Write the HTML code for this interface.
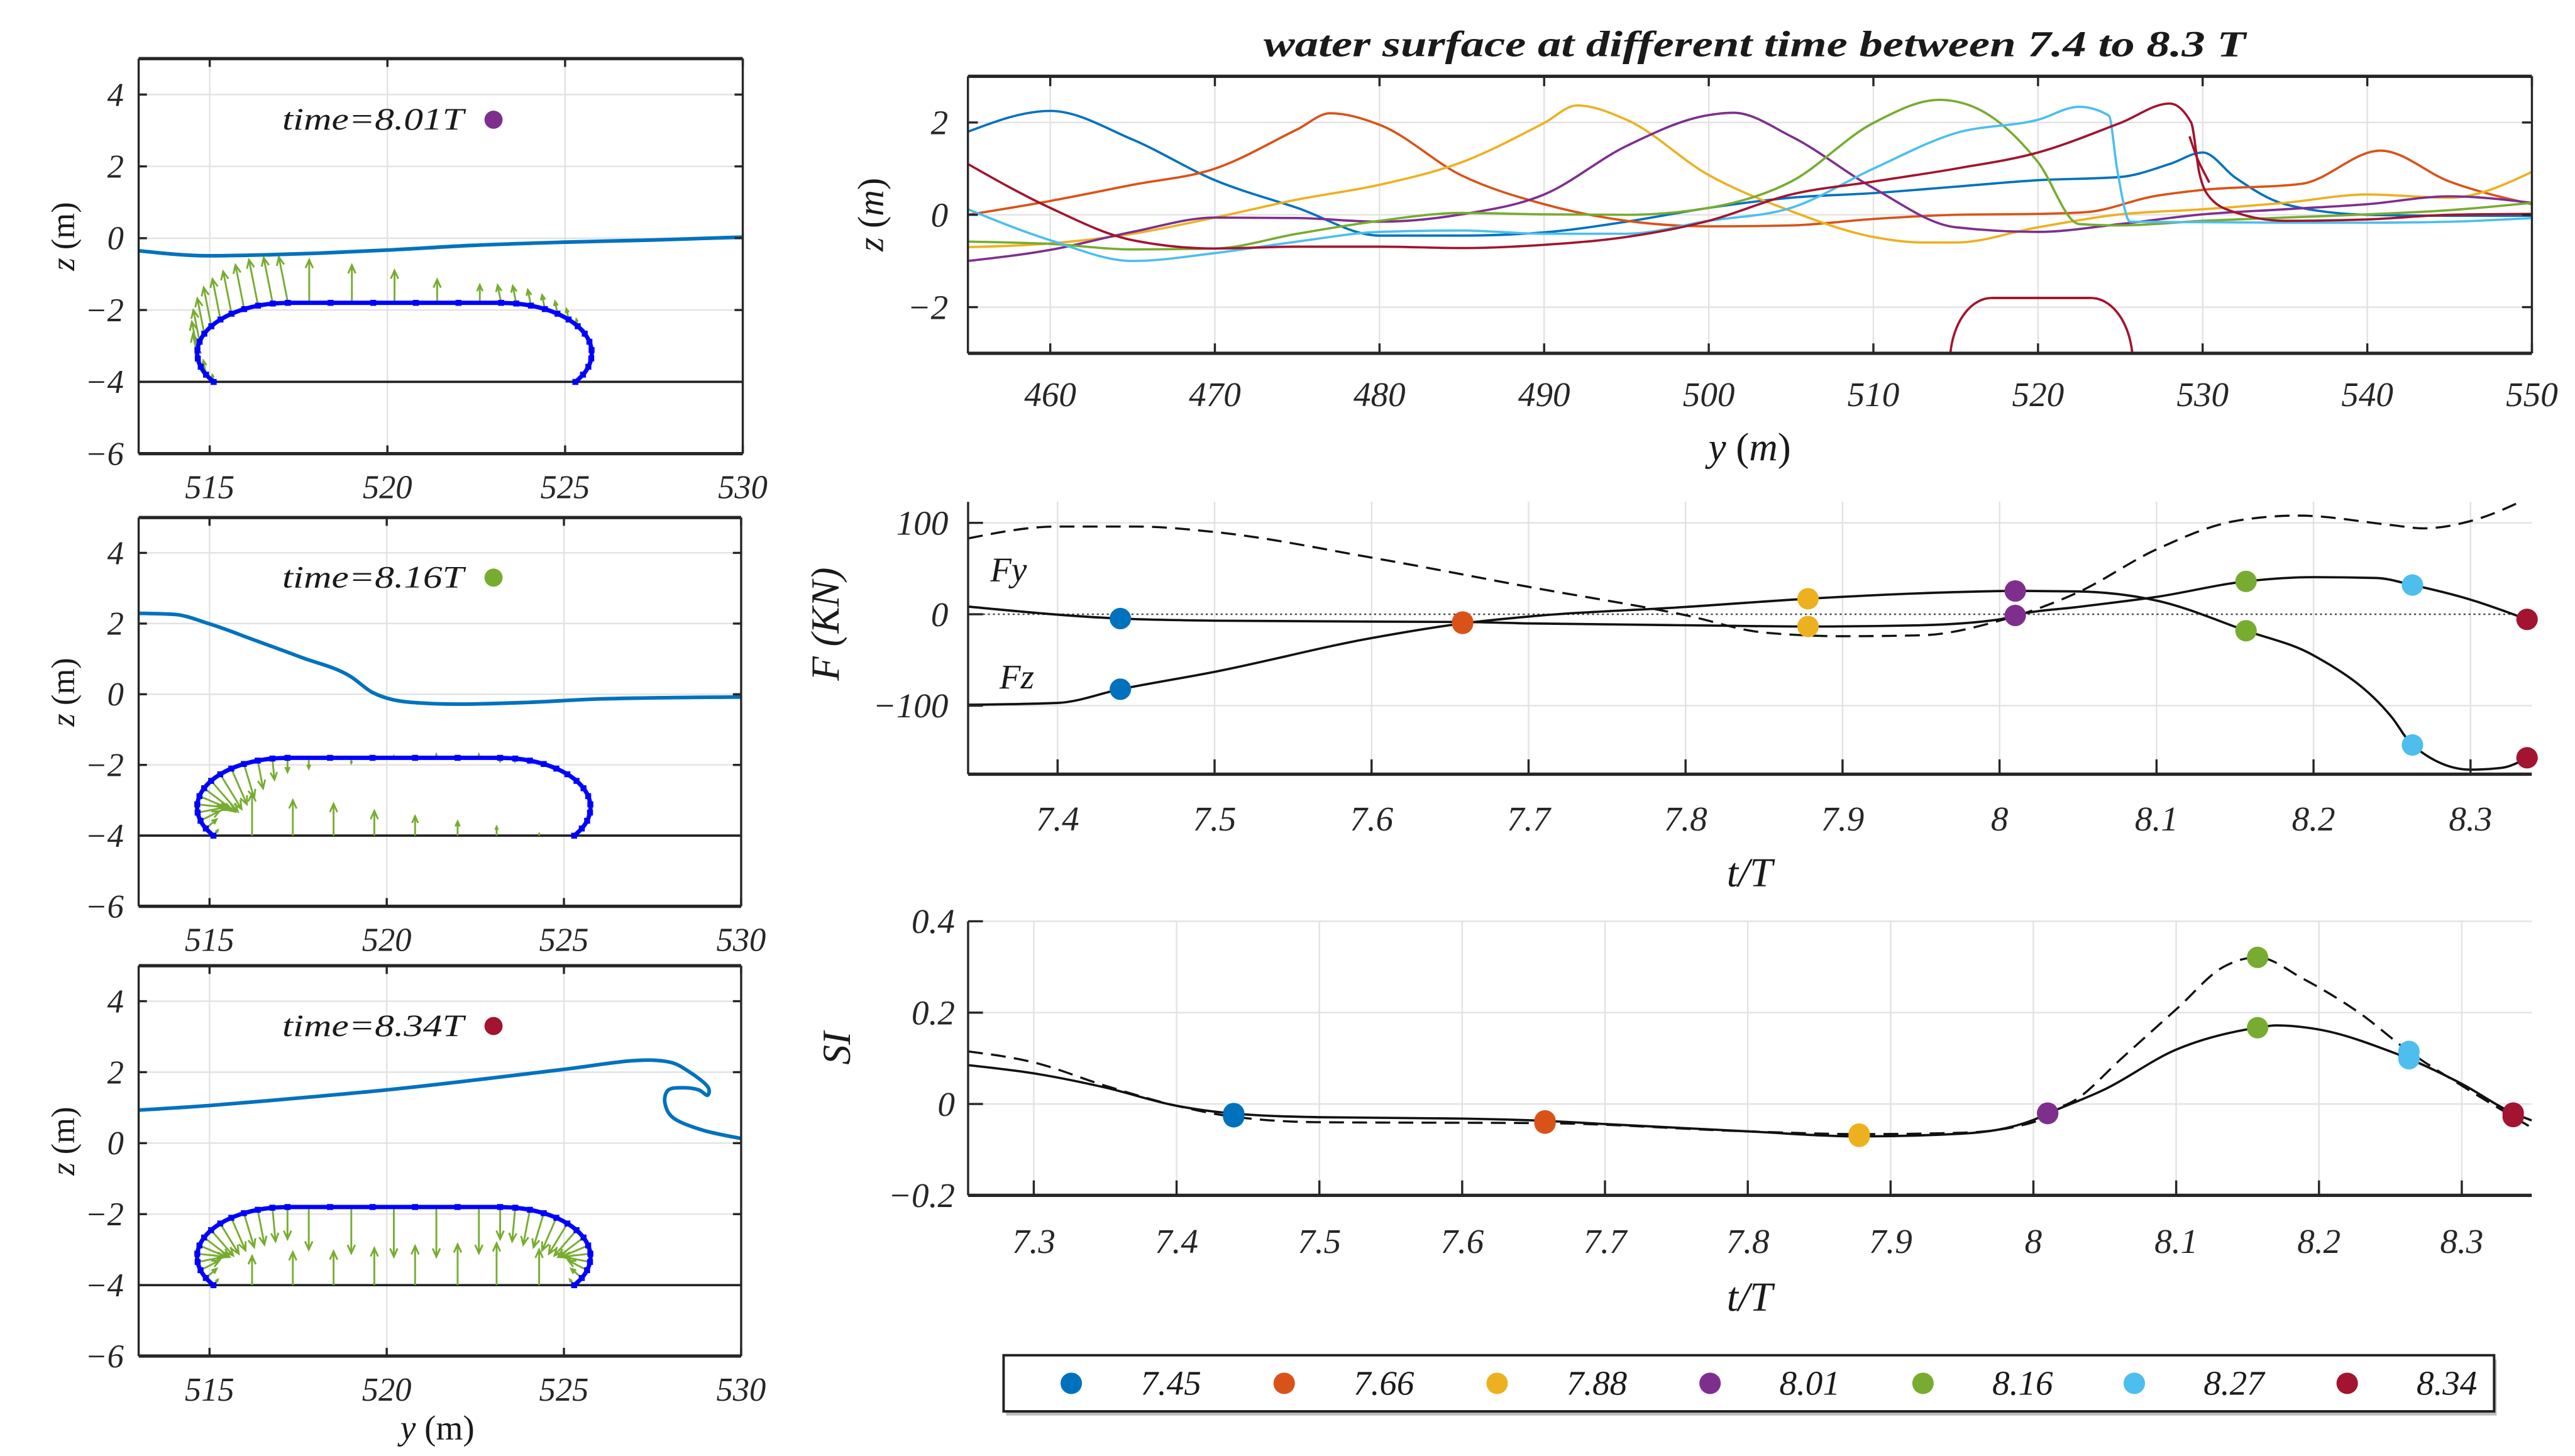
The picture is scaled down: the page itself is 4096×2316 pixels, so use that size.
<!DOCTYPE html>
<html><head><meta charset="utf-8"><style>html,body{margin:0;padding:0;background:#fff}svg{display:block}</style></head>
<body>
<svg id="fig" xmlns="http://www.w3.org/2000/svg" width="4096" height="2316" viewBox="0 0 1560 882" font-family="'Liberation Serif', serif">
<rect x="0" y="0" width="1560" height="882" fill="#fff"/>
</svg>
<script>
// ---------- data ----------
const markerT = [7.44, 7.658, 7.878, 8.01, 8.157, 8.263, 8.336];
const legendLabels = ['7.45','7.66','7.88','8.01','8.16','8.27','8.34'];
const C = ['#0072BD','#D95319','#EDB120','#7E2F8E','#77AC30','#4DBEEE','#A2142F'];

// water surfaces (top-right)
const s1X=[455,460,465,470,475,480,485,490,495,500,505,510,515,520,525,528,530,532,535,540,545,550];
const s1Z=[1.8,2.25,1.63,0.75,0.15,-0.45,-0.45,-0.38,-0.15,0.15,0.37,0.47,0.61,0.75,0.82,1.1,1.35,0.8,0.23,0.0,-0.02,-0.02];
const s2X=[455,460,465,470,475,477,480,485,490,495,500,505,510,515,520,523,527,530,536,540.8,545,550];
const s2Z=[0,0.3,0.65,1.0,1.85,2.2,1.95,0.85,0.23,-0.13,-0.25,-0.23,-0.09,0,0.02,0.06,0.4,0.54,0.67,1.39,0.72,0.23];
const s3X=[455,460,465,470,475,480,485,490,492,495,500,505,510,513,515,520,525,530,535,540,545,550];
const s3Z=[-0.7,-0.62,-0.41,-0.06,0.33,0.65,1.14,1.99,2.37,2.06,0.86,0.08,-0.48,-0.6,-0.6,-0.27,0.01,0.12,0.26,0.44,0.37,0.93];
const s4X=[455,460,465,470,475,480,485,490,495,500,501.5,505,510,515,520,525,530,535,540,545,550];
const s4Z=[-1.0,-0.76,-0.37,-0.06,-0.07,-0.15,0.01,0.44,1.49,2.16,2.21,1.7,0.58,-0.27,-0.37,-0.2,0.01,0.12,0.23,0.4,0.26];
const s5X=[455,460,465,470,475,480,485,490,495,500,505,510,514,516,520,522.5,525,530,535,540,545,550];
const s5Z=[-0.58,-0.63,-0.75,-0.73,-0.41,-0.13,0.04,0.01,0,0.15,0.72,1.99,2.49,2.35,1.14,-0.2,-0.23,-0.13,-0.06,0.01,0.1,0.26];
const s6X=[455,460,465,470,475,480,485,490,495,500,505,510,515,520,522.5,524.3,524.8,525.6,530,535,540,545,550];
const s6Z=[0.12,-0.55,-1.0,-0.83,-0.58,-0.37,-0.34,-0.41,-0.41,-0.13,0.15,1.0,1.77,2.06,2.34,2.15,1.0,-0.15,-0.16,-0.17,-0.17,-0.15,-0.07];
const s7X=[455,460,465,470,475,480,485,490,495,500,505,510,515,520,525,528,529.3,529.8,530.5,532,535,540,545,550];
const s7Z=[1.1,0.15,-0.55,-0.73,-0.69,-0.69,-0.72,-0.65,-0.48,-0.13,0.44,0.72,1.0,1.35,1.99,2.41,2.0,0.9,0.35,0.05,-0.13,-0.1,0.0,0.02];
const jetX=[529.2,529.7,530.4];
const jetZ=[1.7,1.2,0.7];
const surfX=[s1X,s2X,s3X,s4X,s5X,s6X,s7X];
const surfZ=[s1Z,s2Z,s3Z,s4Z,s5Z,s6Z,s7Z];

// forces
const fyT=[7.343,7.44,7.5,7.6,7.66,7.7,7.8,7.88,7.95,8.0,8.013,8.05,8.1,8.157,8.2,8.24,8.263,8.3,8.336];
const fyV=[8.4,-4.7,-7,-8,-8.5,-10,-12,-13.4,-12,-5.6,0,8,19,36,40.6,39.7,32,16,-5.6];
const fzT=[7.343,7.4,7.44,7.5,7.6,7.658,7.7,7.8,7.878,7.95,8.013,8.05,8.1,8.157,8.2,8.25,8.263,8.3,8.32,8.336];
const fzV=[-99,-97,-82,-63,-26,-10,-2.5,8,17,23,25.6,25,15,-18,-45,-113,-143,-170,-168,-157];
const fdT=[7.343,7.4,7.45,7.5,7.6,7.7,7.8,7.85,7.9,7.95,8.0,8.05,8.1,8.15,8.19,8.25,8.27,8.3,8.339];
const fdV=[83,96,96,90,62,30,-1,-20,-24,-23,-7,24,71,102,108,97.5,94,102,129];

// SI
const siT=[7.254,7.3,7.35,7.4,7.44,7.5,7.6,7.658,7.7,7.8,7.878,7.95,8.0,8.01,8.05,8.1,8.157,8.17,8.2,8.25,8.263,8.3,8.336,8.349];
const siV=[0.085,0.067,0.036,-0.004,-0.021,-0.029,-0.032,-0.037,-0.044,-0.06,-0.071,-0.065,-0.035,-0.021,0.032,0.119,0.167,0.172,0.163,0.115,0.099,0.044,-0.02,-0.036];
const sdT=[7.254,7.3,7.35,7.4,7.44,7.5,7.658,7.8,7.878,7.95,8.0,8.01,8.03,8.0615,8.101,8.133,8.157,8.189,8.228,8.263,8.298,8.349];
const sdV=[0.115,0.091,0.04,-0.004,-0.028,-0.04,-0.042,-0.06,-0.066,-0.063,-0.04,-0.02,0.01,0.099,0.21,0.3,0.321,0.274,0.2,0.115,0.044,-0.052];

// left panels: surfaces
const p1X=[513,515,516.7,518,520,522.4,525,527.5,530];
const p1Z=[-0.35,-0.49,-0.46,-0.42,-0.33,-0.2,-0.11,-0.05,0.03];
const p2X=[513,514,515,516.3,517.6,519,519.6,520.7,522,524,526.1,530];
const p2Z=[2.29,2.26,1.99,1.52,1.04,0.49,0.05,-0.23,-0.28,-0.23,-0.13,-0.08];
const p3X=[513,515,517.5,520,522.5,525,526.9,527.95,528.55,529.05,529.05,528.8,528.4,527.95,527.85,528.1,528.9,529.9,530.2];
const p3Z=[0.93,1.06,1.27,1.5,1.78,2.08,2.32,2.29,2.0,1.6,1.35,1.5,1.56,1.5,1.13,0.7,0.37,0.15,0.12];
// pressure arrow magnitudes (m)
const topArrowX=[517.8,519.0,520.2,521.4,522.6];
const botArrowX=[516.2,517.35,518.5,519.65,520.8,522.0,523.1,524.3];
const topDotX=[518.4,519.6,520.8,522.0];
const p1ArcL=[1.3,1.3,1.3,1.25,1.2,1.15,1.1,1.0,0.9,0.8,0.7,0.55,0.4,0.2];
const p1ArcR=[0.5,0.5,0.45,0.4,0.35,0.3,0.2,0.1,0,0,0,0,0,0];
const p1Top=[1.2,1.05,0.9,0.65,0.5];
const p1Bot=[0,0,0,0,0,0,0,0];
const p2ArcL=[0.4,0.6,0.8,1.0,1.1,1.15,1.15,1.1,1.0,0.9,0.8,0.6,0.4,0.2];
const p2ArcR=[0.1,0.08,0.05,0,0,0,0,0,0,0,0,0,0,0];
const p2Top=[-0.3,-0.15,0.05,0.1,0.1];
const p2Bot=[1.2,1.0,0.9,0.7,0.55,0.4,0.25,0.05];
const p3ArcL=[0.9,0.95,1.0,1.0,1.0,1.0,0.95,0.9,0.85,0.8,0.7,0.6,0.4,0.2];
const p3ArcR=[0.9,0.95,1.0,1.0,1.0,1.0,0.95,0.9,0.85,0.8,0.7,0.6,0.4,0.2];
const p3Top=[-1.2,-1.3,-1.4,-1.4,-1.3];
const p3Bot=[0.82,0.93,0.95,1.04,1.1,1.15,1.18,1.0];

// ---------- helpers ----------
const NS='http://www.w3.org/2000/svg';
const svg=document.getElementById('fig');
let clipN=0;
function el(tag,attrs,parent){const e=document.createElementNS(NS,tag);for(const k in attrs)e.setAttribute(k,attrs[k]);(parent||svg).appendChild(e);return e;}
function lin(d0,d1,r0,r1){return v=>r0+(v-d0)*(r1-r0)/(d1-d0);}
function interp(xs,ys,x){for(let i=0;i<xs.length-1;i++){if(x>=xs[i]&&x<=xs[i+1]){const t=(x-xs[i])/(xs[i+1]-xs[i]);return ys[i]+t*(ys[i+1]-ys[i]);}}return x<xs[0]?ys[0]:ys[ys.length-1];}
function monoPath(X,Y){
  const n=X.length; if(n<2) return '';
  const sgn=v=>v<0?-1:1;
  const m=new Array(n);
  for(let i=1;i<n-1;i++){const h0=X[i]-X[i-1],h1=X[i+1]-X[i];const s0=(Y[i]-Y[i-1])/h0,s1=(Y[i+1]-Y[i])/h1;const p=(s0*h1+s1*h0)/(h0+h1);m[i]=(sgn(s0)+sgn(s1))*Math.min(Math.abs(s0),Math.abs(s1),0.5*Math.abs(p))||0;}
  if(n===2){m[0]=m[1]=(Y[1]-Y[0])/(X[1]-X[0]);}
  else{const h=X[1]-X[0];m[0]=(3*(Y[1]-Y[0])/h-m[1])/2;const h2=X[n-1]-X[n-2];m[n-1]=(3*(Y[n-1]-Y[n-2])/h2-m[n-2])/2;}
  let d='M'+X[0].toFixed(2)+','+Y[0].toFixed(2);
  for(let i=0;i<n-1;i++){const dx=(X[i+1]-X[i])/3;d+='C'+(X[i]+dx).toFixed(2)+','+(Y[i]+dx*m[i]).toFixed(2)+' '+(X[i+1]-dx).toFixed(2)+','+(Y[i+1]-dx*m[i+1]).toFixed(2)+' '+X[i+1].toFixed(2)+','+Y[i+1].toFixed(2);}
  return d;
}
function crPath(X,Y){
  let d='M'+X[0].toFixed(2)+','+Y[0].toFixed(2);const n=X.length;
  for(let i=0;i<n-1;i++){const i0=Math.max(0,i-1),i3=Math.min(n-1,i+2);
    const c1x=X[i]+(X[i+1]-X[i0])/6,c1y=Y[i]+(Y[i+1]-Y[i0])/6,c2x=X[i+1]-(X[i3]-X[i])/6,c2y=Y[i+1]-(Y[i3]-Y[i])/6;
    d+='C'+c1x.toFixed(2)+','+c1y.toFixed(2)+' '+c2x.toFixed(2)+','+c2y.toFixed(2)+' '+X[i+1].toFixed(2)+','+Y[i+1].toFixed(2);}
  return d;
}
const fmt=v=>{let s=String(+v.toFixed(3));return s.replace('-','\u2212');};

function makeAxes(name,b,xd,yd,o){
  const sx=lin(xd[0],xd[1],b.x0,b.x1), sy=lin(yd[0],yd[1],b.y1,b.y0);
  const g=el('g',{});
  
  
  const id='clip'+(clipN++);
  const cp=el('clipPath',{id:id},g);
  el('rect',{x:b.x0,y:b.y0,width:b.x1-b.x0,height:b.y1-b.y0},cp);
  const grid=el('g',{stroke:'#e2e2e2','stroke-width':0.9},g);
  
  
  (o.gridX||[]).forEach(v=>{el('line',{x1:sx(v),x2:sx(v),y1:b.y0,y2:b.y1},grid);});
  (o.gridY||[]).forEach(v=>{el('line',{x1:b.x0,x2:b.x1,y1:sy(v),y2:sy(v)},grid);});
  const dg=el('g',{'clip-path':'url(#'+id+')'},g);
  
  
  return {sx,sy,g,dg,b,o};
}
function finishAxes(ax){
  const {sx,sy,g,b,o}=ax;
  const fr=el('g',{stroke:'#262626','stroke-width':1.3,fill:'none'},g);
  
  
  el('line',{x1:b.x0,x2:b.x1,y1:b.y1,y2:b.y1,'stroke-width':2},fr);
  el('line',{x1:b.x0,x2:b.x0,y1:b.y0,y2:b.y1},fr);
  if(o.box){el('line',{x1:b.x0,x2:b.x1,y1:b.y0,y2:b.y0,'stroke-width':2},fr);el('line',{x1:b.x1,x2:b.x1,y1:b.y0,y2:b.y1},fr);}
  const tl=o.tickLen||5;
  o.xticks.forEach(v=>{el('line',{x1:sx(v),x2:sx(v),y1:b.y1,y2:b.y1-tl},fr);if(o.box)el('line',{x1:sx(v),x2:sx(v),y1:b.y0,y2:b.y0+tl},fr);
    const t=el('text',{x:sx(v),y:o.xLabY,'text-anchor':'middle','font-size':o.fs,'font-style':'italic',fill:'#262626'},g);
    
    
    t.textContent=o.xfmt?o.xfmt(v):fmt(v);});
  o.yticks.forEach(v=>{el('line',{x1:b.x0,x2:b.x0+tl,y1:sy(v),y2:sy(v)},fr);if(o.box)el('line',{x1:b.x1,x2:b.x1-tl,y1:sy(v),y2:sy(v)},fr);
    const t=el('text',{x:b.x0-(o.yLabGap||8),y:sy(v)+o.fs*0.34,'text-anchor':'end','font-size':o.fs,'font-style':'italic',fill:'#262626'},g);
    
    
    t.textContent=fmt(v);});
}
function addText(txt,x,y,fs,name,extra){
  const t=el('text',Object.assign({x:x,y:y,'font-size':fs,fill:'#1a1a1a','text-anchor':'middle'},extra||{}));
  
  
  t.textContent=txt;return t;
}
function marker(parent,x,y,color,r){
  const c=el('circle',{cx:x,cy:y,r:r||6.5,fill:color},parent);
  
  
  return c;
}

// ---------- structure geometry ----------
const ARC_N=14, CL=517.2, CR=523.2, CZ=-3.2, RX=2.55, RY=1.4;
function arcPts(side){const pts=[];for(let i=0;i<ARC_N;i++){const a=(90+i*125/(ARC_N-1))*Math.PI/180;const c=Math.cos(a),s=Math.sin(a);
  if(side<0)pts.push({x:CL+RX*c,z:CZ+RY*s,nx:c/RX,nz:s/RY});else pts.push({x:CR-RX*c,z:CZ+RY*s,nx:-c/RX,nz:s/RY});}
  pts.forEach(p=>{const L=Math.hypot(p.nx,p.nz);p.nx/=L;p.nz/=L;});return pts;}
const arcL=arcPts(-1), arcR=arcPts(1);
function structurePath(sx,sy){
  const X=[],Y=[];
  for(let i=arcL.length-1;i>=0;i--){X.push(sx(arcL[i].x));Y.push(sy(arcL[i].z));}
  const R=[];
  arcR.forEach(p=>{R.push([sx(p.x),sy(p.z)]);});
  let d=crPath(X,Y);
  d+='L'+R[0][0].toFixed(2)+','+R[0][1].toFixed(2);
  d+=crPath(R.map(p=>p[0]),R.map(p=>p[1])).replace(/^M[^C]*/,'');
  return d;
}
function arrow(parent,x1,y1,x2,y2,color){
  const g=el('g',{stroke:color,'stroke-width':1.1,fill:'none'},parent);
  
  
  el('line',{x1:x1,y1:y1,x2:x2,y2:y2},g);
  const L=Math.hypot(x2-x1,y2-y1);if(L<1)return;
  const ux=(x2-x1)/L,uy=(y2-y1)/L,h=Math.min(5,0.35*L),w=h*0.45;
  el('path',{d:'M'+(x2-ux*h+uy*w)+','+(y2-uy*h-ux*w)+'L'+x2+','+y2+'L'+(x2-ux*h-uy*w)+','+(y2-uy*h+ux*w),fill:'none'},g);
}

// ---------- left panels ----------
const leftBoxes=[{x0:84,x1:450,y0:35.5,y1:274.8},{x0:84,x1:449,y0:313.5,y1:549},{x0:84,x1:449,y0:585,y1:821.5}];
const leftSurfX=[p1X,p2X,p3X], leftSurfZ=[p1Z,p2Z,p3Z];
const leftArcL=[p1ArcL,p2ArcL,p3ArcL], leftArcR=[p1ArcR,p2ArcR,p3ArcR], leftTop=[p1Top,p2Top,p3Top], leftBot=[p1Bot,p2Bot,p3Bot];
const leftTimes=['time=8.01T','time=8.16T','time=8.34T'], leftColor=[C[3],C[4],C[6]];
for(let k=0;k<3;k++){
  const b=leftBoxes[k];
  const ax=makeAxes('snapshot-panel-'+(k+1),b,[513,530],[-6,5],{gridX:[515,520,525],gridY:[-4,-2,0,2,4],xticks:[515,520,525,530],yticks:[-6,-4,-2,0,2,4],box:true,fs:20,xLabY:b.y1+27,yLabGap:9});
  const {sx,sy,dg}=ax;
  const sb=el('line',{x1:b.x0,x2:b.x1,y1:sy(-4),y2:sy(-4),stroke:'#222','stroke-width':1.4},dg);
  
  
  const ag=el('g',{},dg);
  
  
  const green='#77AC30';
  arcL.forEach((p,i)=>{const m=leftArcL[k][i];if(!m)return;let dx,dz;if(k===0){dx=-0.2;dz=1;const L=Math.hypot(dx,dz);dx/=L;dz/=L;}else{dx=-p.nx;dz=-p.nz;}
    arrow(ag,sx(p.x),sy(p.z),sx(p.x+dx*m),sy(p.z+dz*m),green);});
  arcR.forEach((p,i)=>{const m=leftArcR[k][i];if(!m)return;let dx,dz;if(k===0){dx=-0.2;dz=1;const L=Math.hypot(dx,dz);dx/=L;dz/=L;}else{dx=-p.nx;dz=-p.nz;}
    arrow(ag,sx(p.x),sy(p.z),sx(p.x+dx*m),sy(p.z+dz*m),green);});
  topArrowX.forEach((x,i)=>{const m=leftTop[k][i];if(m)arrow(ag,sx(x),sy(-1.8),sx(x),sy(-1.8+m),green);});
  botArrowX.forEach((x,i)=>{const m=leftBot[k][i];if(m)arrow(ag,sx(x),sy(-4),sx(x),sy(-4+m),green);});
  const tl=el('line',{x1:sx(CL),x2:sx(CR),y1:sy(-1.8),y2:sy(-1.8),stroke:k===2?'#222':'#777','stroke-width':1.6},dg);
  
  
  const sp=el('path',{d:structurePath(sx,sy),fill:'none',stroke:'#0000ff','stroke-width':2.6},dg);
  
  
  const dots=el('g',{fill:'#0000ff'},dg);
  
  
  arcL.concat(arcR).forEach(p=>{el('rect',{x:sx(p.x)-1.8,y:sy(p.z)-1.8,width:3.6,height:3.6},dots);});
  topDotX.forEach(x=>{el('rect',{x:sx(x)-1.8,y:sy(-1.8)-1.8,width:3.6,height:3.6},dots);});
  const X=leftSurfX[k].map(sx),Y=leftSurfZ[k].map(sy);
  const surf=el('path',{d:k===2?crPath(X,Y):monoPath(X,Y),fill:'none',stroke:'#0072BD','stroke-width':2.2},dg);
  
  
  finishAxes(ax);
  addText(leftTimes[k],226,sy(3.3)+6,19,'time-annotation',{'font-style':'italic',textLength:110,lengthAdjust:'spacingAndGlyphs'});
  marker(ax.g,299,sy(3.3),leftColor[k],5.5);
  const yl=addText('',33,(b.y0+b.y1)/2,20,'y-axis-title',{transform:'rotate(-90 33 '+((b.y0+b.y1)/2-12)+')'});
  yl.innerHTML='<tspan font-style="italic">z</tspan> (m)';
}
addText('',265,872,21,'x-axis-title').innerHTML='<tspan font-style="italic">y</tspan> (m)';

// ---------- top-right: water surfaces ----------
{
  const b={x0:586.4,x1:1533.9,y0:46.2,y1:214};
  const xt=[460,470,480,490,500,510,520,530,540,550];
  const ax=makeAxes('water-surface-chart',b,[455,550],[-3,3],{gridX:xt,gridY:[-2,0,2],xticks:xt,yticks:[-2,0,2],box:true,fs:21,xLabY:246,yLabGap:12,tickLen:6});
  const {sx,sy,dg}=ax;
  const st=el('path',{d:structurePath(sx,sy),fill:'none',stroke:C[6],'stroke-width':1.4},dg);
  
  
  const stt=el('line',{x1:sx(CL),x2:sx(CR),y1:sy(-1.8),y2:sy(-1.8),stroke:C[6],'stroke-width':1.4},dg);
  
  
  for(let i=0;i<7;i++){
    const p=el('path',{d:monoPath(surfX[i].map(sx),surfZ[i].map(sy)),fill:'none',stroke:C[i],'stroke-width':1.4},dg);
    
    
  }
  const jet=el('path',{d:crPath(jetX.map(sx),jetZ.map(sy)),fill:'none',stroke:C[6],'stroke-width':1.4},dg);
  
  
  finishAxes(ax);
  addText('water surface at different time between 7.4 to 8.3  T',1063,34,22,'chart-title',{'font-weight':'bold','font-style':'italic',textLength:595,lengthAdjust:'spacingAndGlyphs'});
  addText('',1060,279,24,'x-axis-title').innerHTML='<tspan font-style="italic">y</tspan> (<tspan font-style="italic">m</tspan>)';
  addText('',527,138,22,'y-axis-title',{transform:'rotate(-90 527 130)'}).innerHTML='<tspan font-style="italic">z</tspan> (<tspan font-style="italic">m</tspan>)';
}

// ---------- force chart ----------
{
  const b={x0:586.5,x1:1533.8,y0:304,y1:469};
  const xt=[7.4,7.5,7.6,7.7,7.8,7.9,8.0,8.1,8.2,8.3];
  const ax=makeAxes('force-chart',b,[7.343,8.339],[-175,123],{gridX:xt,gridY:[-100,100],xticks:xt,yticks:[-100,0,100],box:false,fs:21,xLabY:503,yLabGap:12,tickLen:9});
  const {sx,sy,dg}=ax;
  const z=el('line',{x1:b.x0,x2:b.x1,y1:sy(0),y2:sy(0),stroke:'#444','stroke-width':0.9,'stroke-dasharray':'1.2,1.8'},dg);
  
  
  const pd=el('path',{d:monoPath(fdT.map(sx),fdV.map(sy)),fill:'none',stroke:'#111','stroke-width':1.3,'stroke-dasharray':'9,5'},dg);
  
  
  const py=el('path',{d:monoPath(fyT.map(sx),fyV.map(sy)),fill:'none',stroke:'#111','stroke-width':1.4},dg);
  
  
  const pz=el('path',{d:monoPath(fzT.map(sx),fzV.map(sy)),fill:'none',stroke:'#111','stroke-width':1.4},dg);
  
  
  markerT.forEach((t,i)=>{marker(ax.g,sx(t),sy(interp(fyT,fyV,t)),C[i]);marker(ax.g,sx(t),sy(interp(fzT,fzV,t)),C[i]);});
  finishAxes(ax);
  addText('Fy',611,352,21,'fy-label',{'font-style':'italic'});
  addText('Fz',616,417,21,'fz-label',{'font-style':'italic'});
  addText('t/T',1060,537,25,'x-axis-title',{'font-style':'italic'});
  addText('F (KN)',500,386,24,'y-axis-title',{'font-style':'italic',transform:'rotate(-90 500 378)'});
}

// ---------- SI chart ----------
{
  const b={x0:586.5,x1:1533.8,y0:558.1,y1:724.1};
  const xt=[7.3,7.4,7.5,7.6,7.7,7.8,7.9,8.0,8.1,8.2,8.3];
  const ax=makeAxes('si-chart',b,[7.254,8.349],[-0.2,0.4],{gridX:xt,gridY:[0,0.2,0.4],xticks:xt,yticks:[-0.2,0,0.2,0.4],box:false,fs:21,xLabY:759,yLabGap:8,tickLen:9});
  const {sx,sy,dg}=ax;
  const pd=el('path',{d:monoPath(sdT.map(sx),sdV.map(sy)),fill:'none',stroke:'#111','stroke-width':1.3,'stroke-dasharray':'9,5'},dg);
  
  
  const ps=el('path',{d:monoPath(siT.map(sx),siV.map(sy)),fill:'none',stroke:'#111','stroke-width':1.4},dg);
  
  
  markerT.forEach((t,i)=>{marker(ax.g,sx(t),sy(interp(sdT,sdV,t)),C[i]);marker(ax.g,sx(t),sy(interp(siT,siV,t)),C[i]);});
  finishAxes(ax);
  addText('t/T',1060,794,25,'x-axis-title',{'font-style':'italic'});
  addText('SI',507,643,24,'y-axis-title',{'font-style':'italic',transform:'rotate(-90 507 635)'});
}

// ---------- legend ----------
{
  const lg=el('g',{});
  
  
  el('rect',{x:609.5,y:823.5,width:903,height:34,fill:'#bbb'},lg);
  el('rect',{x:608,y:821,width:903,height:34,fill:'#fff',stroke:'#222','stroke-width':1.5},lg);
  const lx=[649,778,907,1036,1165,1293,1422];
  legendLabels.forEach((s,i)=>{
    const e=el('g',{},lg);
    
    
    el('circle',{cx:lx[i],cy:838,r:6.5,fill:C[i]},e);
    const t=el('text',{x:lx[i]+42,y:845,'font-size':21,'font-style':'italic',fill:'#1a1a1a'},e);
    
    
    t.textContent=s;
  });
}
</script>
</body></html>
